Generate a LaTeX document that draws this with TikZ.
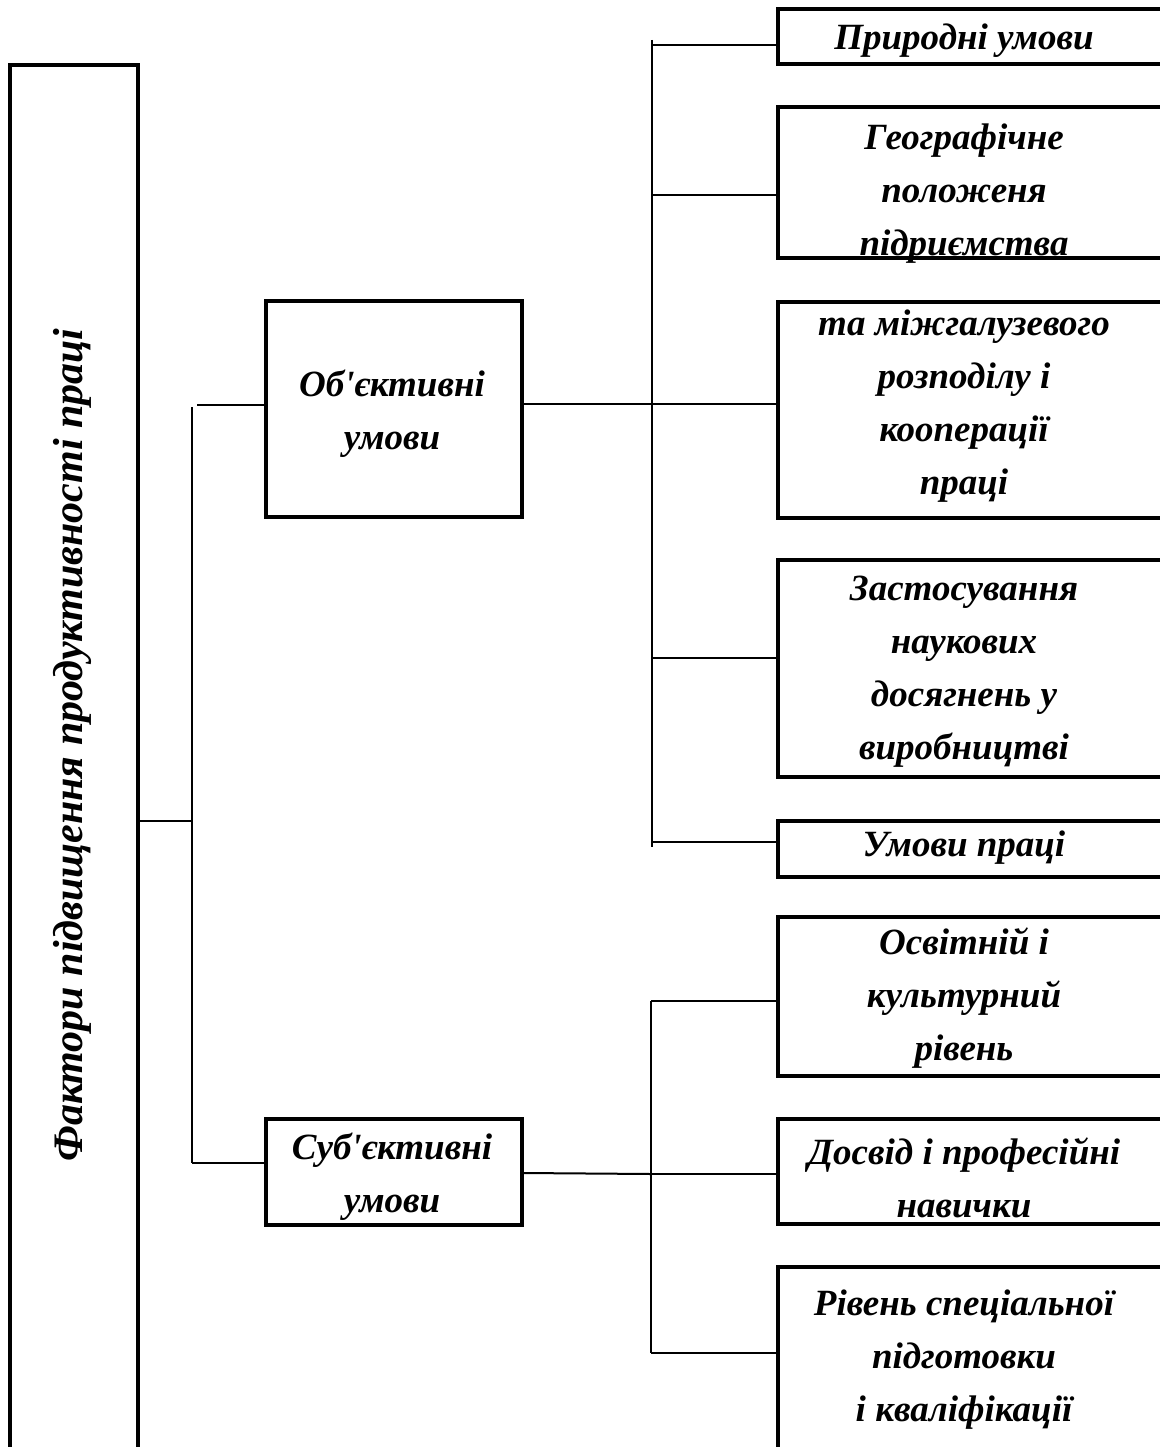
\documentclass[tikz,border=0pt]{standalone}
\usepackage{fontspec}
\setmainfont{Liberation Serif}[Ligatures=TeXOff]
\begin{document}
\begin{tikzpicture}[x=1pt,y=-1pt,
  boxline/.style={line width=3.5pt},
  conn/.style={line width=2pt},
  boxshape/.style={draw=none, inner sep=0pt, minimum width=374pt},
  lbl/.style={font=\fontsize{37}{53}\selectfont\bfseries\itshape, align=center, inner sep=0pt},
  biglbl/.style={font=\fontsize{42}{46}\selectfont\bfseries\itshape, inner sep=0pt, rotate=90}
]
\useasboundingbox[fill=white] (0,0) rectangle (1159,1447);

% main vertical box
\node[draw=none, inner sep=0pt, minimum width=128pt, minimum height=1440pt] (big) at (74,785) {};
\draw[boxline] ([yshift=-20pt]big.south west) -- (big.north west) -- (big.north east) -- ([yshift=-20pt]big.south east);
\node[biglbl] (bigt) at (72,745) {Фактори підвищення продуктивності праці};

% second level boxes
\node[draw, boxline, inner sep=0pt, minimum width=256pt, minimum height=216pt] (obj) at (394,409) {};
\node[lbl] (objt) at (392,414) {Об'єктивні\\умови};
\node[draw, boxline, inner sep=0pt, minimum width=256pt, minimum height=106pt] (sub) at (394,1172) {};
\node[lbl] (subt) at (392,1177) {Суб'єктивні\\умови};

% right boxes
\node[boxshape, minimum height=55pt] (r1) at (965,36.5) {};
\node[boxshape, minimum height=151pt] (r2) at (965,182.5) {};
\node[boxshape, minimum height=216pt] (r3) at (965,410) {};
\node[boxshape, minimum height=217pt] (r4) at (965,668.5) {};
\node[boxshape, minimum height=56pt] (r5) at (965,849) {};
\node[boxshape, minimum height=159pt] (r6) at (965,996.5) {};
\node[boxshape, minimum height=105pt] (r7) at (965,1171.5) {};
\node[boxshape, minimum height=300pt] (r8) at (965,1417) {};
\foreach \r in {r1,r2,r3,r4,r5,r6,r7,r8}{
  \draw[boxline] ([xshift=30pt]\r.north east) -- (\r.north west) -- (\r.south west) -- ([xshift=30pt]\r.south east);
}
\node[lbl] (t1) at (964,41) {Природні умови};
\node[lbl] (t2) at (964,194) {Географічне\\положеня\\підриємства};
\node[lbl] (t3) at (964,406) {та міжгалузевого\\розподілу і\\кооперації\\праці};
\node[lbl] (t4) at (964,672) {Застосування\\наукових\\досягнень у\\виробництві};
\node[lbl] (t5) at (964,848) {Умови праці};
\node[lbl] (t6) at (964,998) {Освітній і\\культурний\\рівень};
\node[lbl] (t7) at (964,1178) {Досвід і професійні\\навички};
\node[lbl] (t8) at (964,1360) {Рівень спеціальної\\підготовки\\і кваліфікації};

% junction coordinates
\coordinate (j0) at (192,821);
\coordinate (jtop) at (192,407);
\coordinate (jbot) at (192,1163);
\coordinate (ja) at (197,405);
\coordinate (ua) at (652,40);
\coordinate (ub) at (652,847);
\coordinate (u1) at (652,45);
\coordinate (u2) at (652,195);
\coordinate (u3) at (652,404);
\coordinate (u4) at (652,658);
\coordinate (u5) at (652,842);
\coordinate (la) at (651,1001);
\coordinate (lb) at (651,1353);
\coordinate (l2) at (651,1174);

% connectors
\draw[conn] (big.east |- j0) -- (j0);
\draw[conn] (jtop) -- (jbot);
\draw[conn] (ja) -- (ja -| obj.west);
\draw[conn] (jbot) -- (jbot -| sub.west);
\draw[conn] (obj.east |- u3) -- (u3);
\draw[conn] (ua) -- (ub);
\foreach \u/\r in {u1/r1,u2/r2,u3/r3,u4/r4,u5/r5}{
  \draw[conn] (\u) -- (\u -| \r.west);
}
\draw[conn] ([yshift=-1pt]sub.east) -- (l2);
\draw[conn] (la) -- (lb);
\foreach \u/\r in {la/r6,l2/r7,lb/r8}{
  \draw[conn] (\u) -- (\u -| \r.west);
}
\end{tikzpicture}
\end{document}
